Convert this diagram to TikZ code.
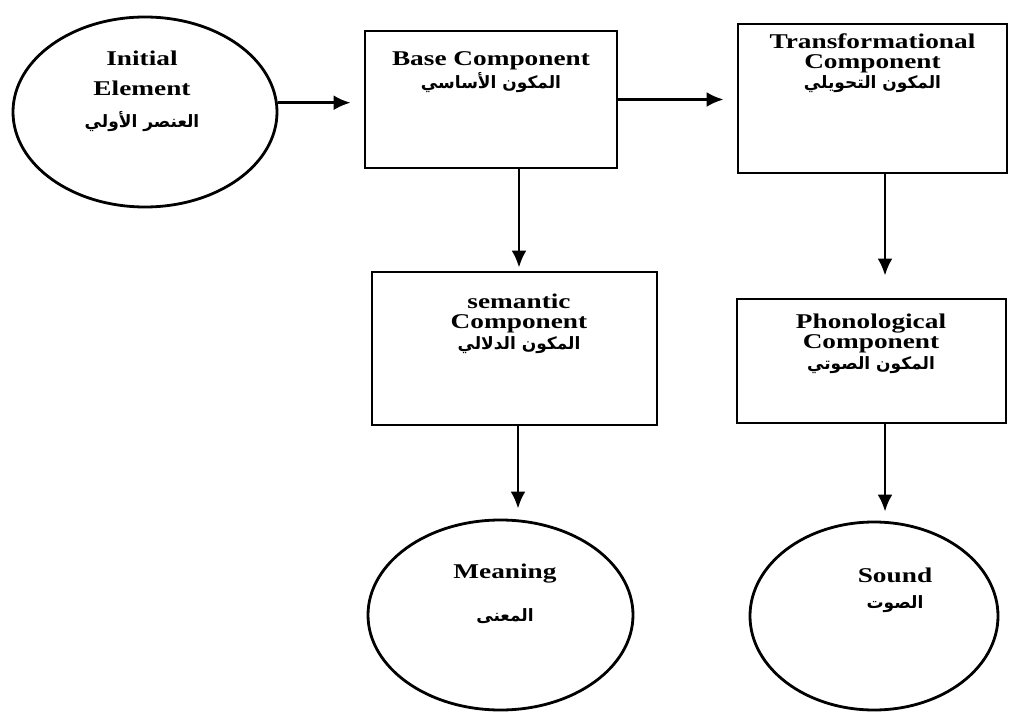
\documentclass[tikz,border=0pt]{standalone}
\usepackage{fontspec}
\setmainfont{Liberation Serif}[FakeStretch=1.3]
\newfontfamily\arabicfont[Script=Arabic]{DejaVu Sans}
\TeXXeTstate=1
\usetikzlibrary{shapes.geometric,arrows.meta}

\newcommand{\labelfont}{\fontsize{10.5}{10}\selectfont\bfseries\lineskiplimit=-10pt}
\newcommand{\arab}[1]{{\arabicfont\fontsize{8.5}{10}\selectfont\beginR #1\endR}}

\begin{document}
\begin{tikzpicture}[x=0.5pt,y=-0.5pt,line width=1.4pt,
    comp/.style={draw,rectangle,inner sep=0pt},
    stage/.style={draw,ellipse,inner sep=0pt},
    txt/.style={anchor=north,inner sep=0pt,align=center,font=\labelfont},
    >={Latex[length=8.5pt,width=7.5pt]}]
    \useasboundingbox (0,0) rectangle (1013,717);
    % boxes and ellipses
    \node[stage,minimum width=132pt,minimum height=95pt] (init) at (145,112) {};
    \node[comp,minimum width=126pt,minimum height=68.5pt] (base) at (491,99.5) {};
    \node[comp,minimum width=134.5pt,minimum height=74.5pt] (trans) at (872.5,98.5) {};
    \node[comp,minimum width=142.5pt,minimum height=76.5pt] (sem) at (514.5,348.5) {};
    \node[comp,minimum width=134.5pt,minimum height=62pt] (phon) at (871.5,361) {};
    \node[stage,minimum width=132.5pt,minimum height=95pt] (mean) at (500.5,615) {};
    \node[stage,minimum width=124pt,minimum height=94pt] (sound) at (874,616) {};
    % labels
    \node[txt] (init text) at (142,50) {Initial\\[5pt] Element\\[6pt] \arab{العنصر الأولي}};
    \node[txt] (base text) at (491,50) {Base Component\\[1.5pt] \arab{المكون الأساسي}};
    \node[txt] (trans text) at (872.5,32) {Transformational\\ Component\\ \arab{المكون التحويلي}};
    \node[txt] (sem text) at (519,293) {semantic\\ Component\\[0.5pt] \arab{المكون الدلالي}};
    \node[txt] (phon text) at (871,313) {Phonological\\ Component\\[0.5pt] \arab{المكون الصوتي}};
    \node[txt] (mean text) at (505,563) {Meaning\\[11.5pt] \arab{المعنى}};
    \node[txt] (sound text) at (895,567) {Sound\\[3pt] \arab{الصوت}};
    % arrows
    \draw[->,shorten >=6.5pt] (init.4) -- (init.4 -| base.west);
    \draw[->,shorten >=6.5pt] (base.east) -- (base.east -| trans.west);
    \draw[->,shorten >=1.5pt] ([xshift=14pt]base.south) -- ([xshift=14pt]base.south |- sem.north);
    \draw[->,shorten >=11pt] ([xshift=6.25pt]trans.south) -- ([xshift=6.25pt]trans.south |- phon.north);
    \draw[->,shorten >=5pt] ([xshift=1.75pt]sem.south) -- ([xshift=1.75pt]sem.south |- mean.north);
    \draw[->,shorten >=4.5pt] ([xshift=6.75pt]phon.south) -- ([xshift=6.75pt]phon.south |- sound.north);
\end{tikzpicture}
\end{document}
